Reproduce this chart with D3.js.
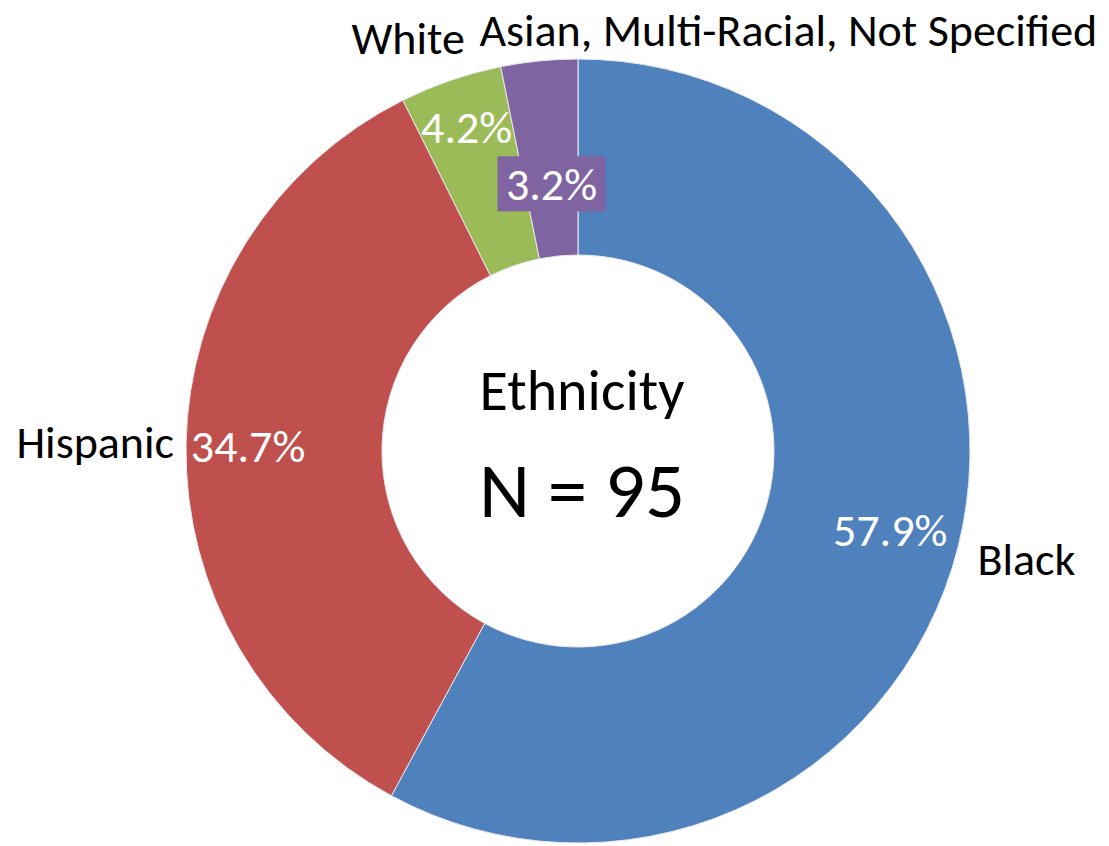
<!DOCTYPE html>
<html>
<head>
<meta charset="utf-8">
<script src="https://cdn.jsdelivr.net/npm/d3@7"></script>
<style>
  body { margin: 0; background: #fff; }
  text { font-family: Carlito, Lato, "Open Sans", sans-serif; }
</style>
</head>
<body>
<div id="chart"></div>
<script>
// ethnicity counts (N = 95)
const categories = ["Black", "Hispanic", "White", "Asian, Multi-Racial, Not Specified"];
const counts = [55, 33, 4, 3];
const colors = ["#4f81bd", "#c0504d", "#9bbb59", "#8064a2"];
const centerTitle = "Ethnicity";
const centerSub = "N = 95";

const width = 1109,
      height = 846;
const cx = 578, cy = 451;
const outerR = 392, innerR = 196;

// where Excel put each label: radius of the % label, and a pixel nudge for
// the category name placed just outside the ring
const pctR = [322, 330, 343, 268];
const nameR = 410;
const nameLayout = [
  {dx: 2, dy: 23, anchor: "start"},
  {dx: 6, dy: 14, anchor: "end"},
  {dx: 20, dy: -9, anchor: "end"},
  {dx: -58, dy: 3, anchor: "start"}
];

const svg = d3.select("#chart")
    .append("svg")
    .attr("width", width)
    .attr("height", height)
    .append("g")
    .attr("transform", `translate(${cx}, ${cy})`);

const data = categories.map((c, i) => ({name: c, value: counts[i], color: colors[i], i: i}));
const total = d3.sum(counts);
const fmt = d3.format(".1%");

const pie = d3.pie()
    .sort(null)
    .value(d => d.value);
const arcs = pie(data);

const arc = d3.arc()
    .innerRadius(innerR)
    .outerRadius(outerR);

svg.selectAll("path.slice")
    .data(arcs)
    .enter()
    .append("path")
    .attr("class", "slice")
    .attr("d", arc)
    .style("fill", d => d.data.color)
    .style("stroke", "#e8e8f0")
    .style("stroke-width", 1);

function polar(angle, r) {
    return [Math.sin(angle) * r, -Math.cos(angle) * r];
}
const mid = d => (d.startAngle + d.endAngle) / 2;

// percent labels
const pct = svg.selectAll("g.pct")
    .data(arcs)
    .enter()
    .append("g")
    .attr("class", "pct")
    .attr("transform", d => `translate(${polar(mid(d), pctR[d.data.i])})`);

// the small purple slice gets a filled box behind its label
pct.filter(d => d.data.i === 3)
    .append("rect")
    .attr("x", -54)
    .attr("y", -28)
    .attr("width", 108)
    .attr("height", 55)
    .style("fill", d => d.data.color);

pct.append("text")
    .attr("text-anchor", "middle")
    .attr("dy", "0.35em")
    .style("font-size", "46px")
    .style("fill", "#fff")
    .text(d => fmt(d.value / total));

// category labels outside the ring
svg.selectAll("text.name")
    .data(arcs)
    .enter()
    .append("text")
    .attr("class", "name")
    .attr("transform", d => {
        const p = polar(mid(d), nameR);
        const l = nameLayout[d.data.i];
        return `translate(${p[0] + l.dx}, ${p[1] + l.dy})`;
    })
    .attr("text-anchor", d => nameLayout[d.data.i].anchor)
    .style("font-size", "46px")
    .style("fill", "#000")
    .text(d => d.data.name);

// centre text
svg.append("text")
    .attr("x", 4)
    .attr("y", -41)
    .attr("text-anchor", "middle")
    .style("font-size", "58px")
    .text(centerTitle);

svg.append("text")
    .attr("x", 4)
    .attr("y", 66)
    .attr("text-anchor", "middle")
    .style("font-size", "79px")
    .text(centerSub);
</script>
</body>
</html>
